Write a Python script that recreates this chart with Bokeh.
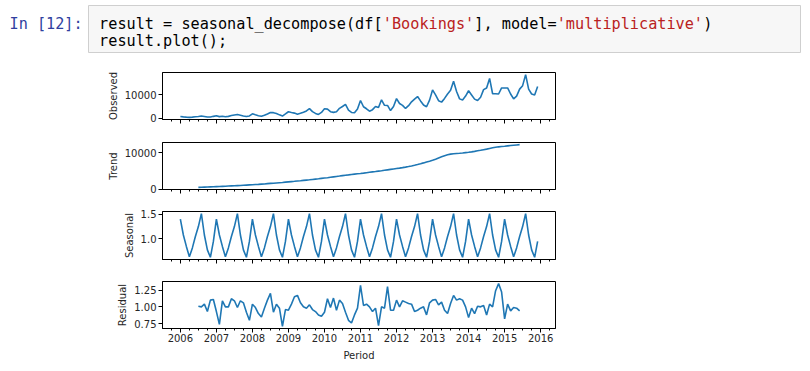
import pandas as pd
from bokeh.plotting import figure
from bokeh.models import Range1d, FixedTicker, NumeralTickFormatter, CustomJSTickFormatter
from bokeh.core.properties import value
from bokeh.embed import file_html
from bokeh.resources import INLINE

# ---------------- data ----------------
first_month = "2006-01-01"
n_months = 120

observed = [
    670, 530, 425, 330, 430, 570, 710, 890, 700, 470, 480, 770,            # 2006
    1000, 640, 780, 560, 750, 1130, 1360, 1550, 1270, 930, 680, 930,       # 2007
    1860, 1420, 1060, 780, 1210, 1810, 2460, 2360, 1990, 1410, 880, 1810,  # 2008
    2750, 2400, 2160, 1710, 2060, 2580, 3120, 4090, 2820, 2040, 1610, 2460,  # 2009
    4010, 3880, 2790, 2480, 2760, 4220, 5000, 5900, 3440, 2460, 2320, 3980,  # 2010
    7600, 4910, 4040, 3000, 3650, 5030, 4560, 7900, 5540, 5470, 3270, 5040,  # 2011
    8400, 6300, 5520, 4180, 5380, 7010, 8200, 9300, 7420, 5660, 4900, 7770,  # 2012
    12170, 10000, 7500, 6900, 8500, 10400, 12000, 15900, 11500, 8300, 7800, 9500,  # 2013
    11800, 10000, 8200, 7600, 9000, 12300, 13000, 17100, 10500, 10500, 10400, 13000,  # 2014
    13000, 13000, 10400, 8300, 9500, 12500, 14000, 18750, 12500, 10400, 10000, 13600,  # 2015
]

# trend and residual: Jul 2006 .. Jun 2015
trend = [
    560, 590, 620, 650, 690, 730,
    770, 800, 840, 880, 920, 960, 1000, 1040, 1080, 1130, 1180, 1230,
    1280, 1330, 1380, 1440, 1500, 1570, 1640, 1700, 1770, 1840, 1910, 1990,
    2070, 2140, 2210, 2290, 2370, 2460, 2550, 2630, 2720, 2810, 2900, 3010,
    3110, 3210, 3320, 3430, 3540, 3650, 3770, 3880, 3980, 4090, 4180, 4270,
    4360, 4460, 4570, 4680, 4790, 4890, 5000, 5110, 5230, 5350, 5470, 5590,
    5710, 5830, 5960, 6100, 6250, 6420, 6600, 6800, 7010, 7250, 7500, 7720,
    7950, 8250, 8580, 8900, 9200, 9450, 9650, 9760, 9830, 9890, 9970, 10060,
    10150, 10260, 10400, 10550, 10700, 10860, 11020, 11200, 11380, 11530, 11640, 11720,
    11800, 11900, 11990, 12080, 12160, 12240,
]

seasonal = [
    1.40, 1.08, 0.85, 0.64, 0.82, 1.05, 1.25, 1.51, 1.08, 0.78, 0.63, 0.95,
    1.40, 1.08, 0.85, 0.64, 0.82, 1.05, 1.25, 1.51, 1.08, 0.78, 0.63, 0.95,
    1.40, 1.08, 0.85, 0.64, 0.82, 1.05, 1.25, 1.51, 1.08, 0.78, 0.63, 0.95,
    1.40, 1.08, 0.85, 0.64, 0.82, 1.05, 1.25, 1.51, 1.08, 0.78, 0.63, 0.95,
    1.40, 1.08, 0.85, 0.64, 0.82, 1.05, 1.25, 1.51, 1.08, 0.78, 0.63, 0.95,
    1.40, 1.08, 0.85, 0.64, 0.82, 1.05, 1.25, 1.51, 1.08, 0.78, 0.63, 0.95,
    1.40, 1.08, 0.85, 0.64, 0.82, 1.05, 1.25, 1.51, 1.08, 0.78, 0.63, 0.95,
    1.40, 1.08, 0.85, 0.64, 0.82, 1.05, 1.25, 1.51, 1.08, 0.78, 0.63, 0.95,
    1.40, 1.08, 0.85, 0.64, 0.82, 1.05, 1.25, 1.51, 1.08, 0.78, 0.63, 0.95,
    1.40, 1.08, 0.85, 0.64, 0.82, 1.05, 1.25, 1.51, 1.08, 0.78, 0.63, 0.95,
]

residual = [
    1.01, 1.00, 1.04, 0.93, 1.10, 1.11,
    0.93, 0.74, 1.09, 1.00, 1.00, 1.12, 1.09, 0.99, 1.09, 1.06, 0.92, 0.80,
    1.04, 0.99, 0.90, 0.85, 0.98, 1.10, 1.20, 0.92, 1.04, 0.98, 0.71, 0.96,
    0.95, 1.04, 1.15, 1.17, 1.06, 1.00, 0.98, 1.03, 0.96, 0.93, 0.88, 0.86,
    0.92, 1.12, 0.99, 1.13, 0.95, 1.10, 1.05, 0.92, 0.80, 0.76, 0.88, 0.98,
    1.32, 1.02, 1.04, 1.00, 0.93, 0.98, 0.72, 1.00, 0.98, 1.30, 0.95, 0.95,
    1.10, 1.00, 1.09, 1.07, 1.05, 1.04, 0.93, 0.95, 0.98, 1.00, 0.88, 1.06,
    1.10, 1.11, 1.03, 1.07, 0.95, 0.90, 1.05, 1.17, 1.10, 1.12, 1.10, 1.00,
    0.84, 0.98, 0.90, 1.01, 1.00, 1.02, 0.88, 1.04, 1.00, 1.24, 1.345, 1.22,
    0.82, 1.04, 0.94, 0.99, 0.98, 0.94,
]

panel_labels = ["Observed", "Trend", "Seasonal", "Residual"]
obs_ticks = [0, 10000]
trend_ticks = [0, 10000]
seas_ticks = [1.0, 1.5]
resid_ticks = [0.75, 1.00, 1.25]
year_ticks = list(range(2006, 2017))
x_label = "Period"

prompt_text = "In [12]:"
code_line1 = [("result = seasonal_decompose(df[", "#000000"),
              ("'Bookings'", "#BA2121"),
              ("], model=", "#000000"),
              ("'multiplicative'", "#BA2121"),
              (")", "#000000")]
code_line2 = [("result.plot();", "#000000")]

# ---------------- helpers ----------------
months = pd.date_range(first_month, periods=n_months, freq="MS")
xs = [m.year + (m.month - 1) / 12.0 for m in months]
xs_mid = xs[6:6 + len(trend)]
x_lo = xs[0] - 0.05 * (xs[-1] - xs[0])
x_hi = xs[-1] + 0.05 * (xs[-1] - xs[0])
quarter_ticks = [y + q / 4.0 for y in range(2005, 2017) for q in range(4)
                 if x_lo <= y + q / 4.0 <= x_hi]

FONT = "DejaVu Sans"
TXT = "#262626"
LINE = "#1f77b4"
W = 810
LEFT = 162
FRAME_W = 393
RIGHT = W - LEFT - FRAME_W


def auto_range(vals):
    lo, hi = min(vals), max(vals)
    pad = 0.05 * (hi - lo)
    return Range1d(lo - pad, hi + pad)


def panel(label, x, y, ticks, fmt, height, top, bottom, show_x):
    p = figure(width=W, height=height, output_backend="svg", toolbar_location=None,
               x_range=Range1d(x_lo, x_hi), y_range=auto_range(y),
               min_border_left=LEFT, min_border_right=RIGHT,
               min_border_top=top, min_border_bottom=bottom)
    p.line(x, y, line_color=LINE, line_width=1.6)
    p.grid.grid_line_color = None
    p.outline_line_color = "#000000"
    p.outline_line_alpha = 1.0
    p.outline_line_width = 1
    p.background_fill_color = "white"
    p.border_fill_color = "white"

    ya = p.yaxis[0]
    ya.ticker = FixedTicker(ticks=ticks)
    ya.formatter = NumeralTickFormatter(format=fmt)
    ya.major_tick_out = 4
    ya.major_tick_in = 0
    ya.minor_tick_line_color = None
    ya.major_label_standoff = 2
    ya.major_label_text_font = FONT
    ya.major_label_text_font_size = "10px"
    ya.major_label_text_color = TXT
    ya.axis_label = label
    ya.axis_label_text_font = FONT
    ya.axis_label_text_font_size = "10px"
    ya.axis_label_text_font_style = "normal"
    ya.axis_label_text_color = TXT
    ya.axis_label_standoff = 3
    ya.axis_line_color = "#000000"

    xa = p.xaxis[0]
    xa.ticker = FixedTicker(ticks=year_ticks, minor_ticks=quarter_ticks)
    xa.major_tick_out = 4
    xa.major_tick_in = 0
    xa.minor_tick_out = 2
    xa.minor_tick_in = 0
    xa.axis_line_color = "#000000"
    if show_x:
        xa.formatter = NumeralTickFormatter(format="0")
        xa.major_label_standoff = 1
        xa.major_label_text_font = FONT
        xa.major_label_text_font_size = "10px"
        xa.major_label_text_color = TXT
        xa.axis_label = x_label
        xa.axis_label_text_font = FONT
        xa.axis_label_text_font_size = "10px"
        xa.axis_label_text_font_style = "normal"
        xa.axis_label_text_color = TXT
        xa.axis_label_standoff = 5
    else:
        xa.formatter = CustomJSTickFormatter(code="return ''")
        xa.major_label_text_font_size = "1px"
        xa.major_label_standoff = 0
    return p


# ---------------- code cell (page pixel coordinates) ----------------
CH = 62
code = figure(width=W, height=CH, output_backend="svg", toolbar_location=None,
              x_range=Range1d(0, W), y_range=Range1d(CH, 0),
              min_border=0)
code.axis.visible = False
code.grid.grid_line_color = None
code.outline_line_color = None
code.quad(left=[88], right=[800], top=[5], bottom=[52],
          fill_color="#f7f7f7", line_color="#cfcfcf", line_width=1)
MONO = value("DejaVu Sans Mono")
FS = 15.2
CW = FS * 0.6021
code.text(x=[9], y=[23], text=[prompt_text], text_font=MONO,
          text_font_size=value(f"{FS}px"), text_color="#303F9F",
          text_baseline="middle")
for line_y, segs in ((23, code_line1), (40.5, code_line2)):
    col = 0
    for s, c in segs:
        code.text(x=[98.6 + col * CW], y=[line_y], text=[s], text_font=MONO,
                  text_font_size=value(f"{FS}px"), text_color=c,
                  text_baseline="middle")
        col += len(s)

# ---------------- panels ----------------
p_obs = panel(panel_labels[0], xs, observed, obs_ticks, "0", 68, 10, 11, False)
p_trend = panel(panel_labels[1], xs_mid, trend, trend_ticks, "0", 70, 12, 11, False)
p_seas = panel(panel_labels[2], xs, seasonal, seas_ticks, "0.0", 70, 11, 11, False)
p_resid = panel(panel_labels[3], xs_mid, residual, resid_ticks, "0.00", 101, 11, 43, True)

open("out.html", "w").write(file_html([code, p_obs, p_trend, p_seas, p_resid], INLINE))
